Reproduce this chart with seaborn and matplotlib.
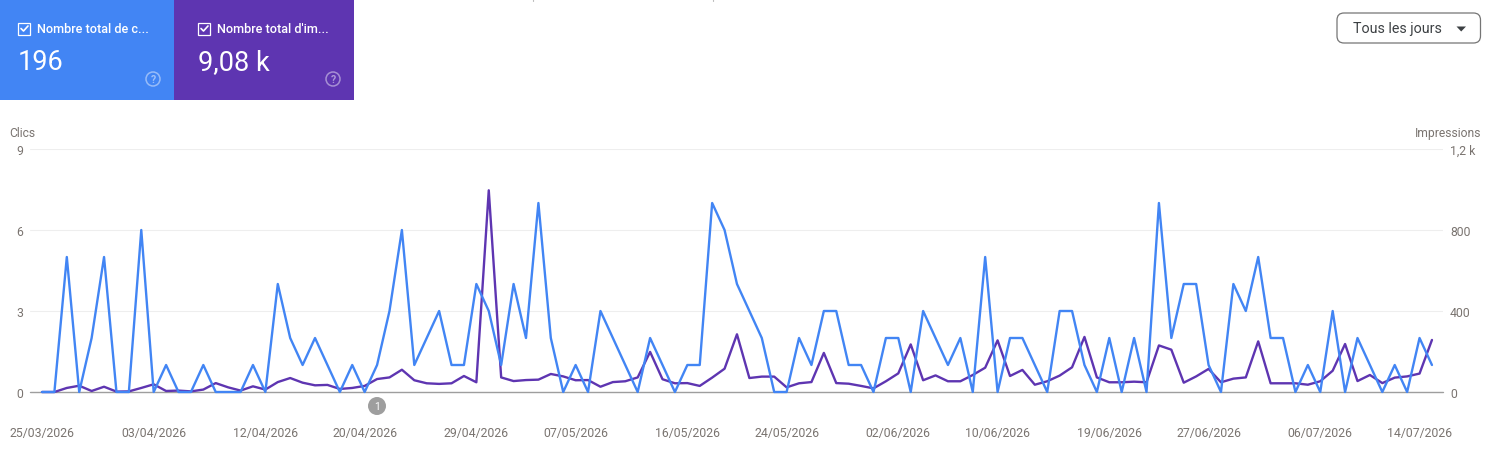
import pandas as pd
import matplotlib
matplotlib.use('Agg')
from matplotlib import pyplot as plt
from matplotlib.patches import Rectangle, Circle, FancyBboxPatch, Polygon
import seaborn as sns

start_date = '2026-03-25'
clicks = [0, 0, 5, 0, 2, 5, 0, 0, 6, 0,
          1, 0, 0, 1, 0, 0, 0, 1, 0, 4,
          2, 1, 2, 1, 0, 1, 0, 1, 3, 6,
          1, 2, 3, 1, 1, 4, 3, 1, 4, 2,
          7, 2, 0, 1, 0, 3, 2, 1, 0, 2,
          1, 0, 1, 1, 7, 6, 4, 3, 2, 0,
          0, 2, 1, 3, 3, 1, 1, 0, 2, 2,
          0, 3, 2, 1, 2, 0, 5, 0, 2, 2,
          1, 0, 3, 3, 1, 0, 2, 0, 2, 0,
          7, 2, 4, 4, 1, 0, 4, 3, 5, 2,
          2, 0, 1, 0, 3, 0, 2, 1, 0, 1,
          0, 2, 1]
impressions = [0, 0, 20, 31, 5, 26, 2, 3, 20, 38,
               5, 7, 3, 12, 44, 23, 7, 28, 12, 49,
               69, 46, 33, 35, 15, 20, 30, 64, 72, 110,
               58, 43, 40, 43, 79, 48, 996, 72, 54, 59,
               61, 89, 77, 58, 59, 26, 49, 53, 72, 198,
               63, 43, 44, 30, 71, 115, 285, 69, 76, 76,
               23, 43, 49, 193, 44, 41, 30, 18, 53, 92,
               235, 58, 82, 53, 53, 84, 120, 255, 79, 109,
               36, 53, 81, 122, 272, 72, 48, 48, 51, 48,
               230, 209, 46, 77, 114, 48, 66, 72, 250, 43,
               43, 43, 36, 53, 105, 237, 54, 84, 44, 71,
               77, 91, 257]
date_ticks = ['25/03/2026', '03/04/2026', '12/04/2026', '20/04/2026', '29/04/2026',
              '07/05/2026', '16/05/2026', '24/05/2026', '02/06/2026', '10/06/2026',
              '19/06/2026', '27/06/2026', '06/07/2026', '14/07/2026']
clicks_ticks = [0, 3, 6, 9]
impressions_ticks = [0, 400, 800, 1200]
impressions_labels = ['0', '400', '800', '1,2 k']

blue = '#4285f4'
purple = '#5e35b1'
grey = '#7a7470'

sns.set_theme(style='white')
plt.rcParams['font.family'] = ['Roboto', 'DejaVu Sans']

W, H = 1496, 452
dates = pd.date_range(start_date, periods=len(clicks))

fig = plt.figure(figsize=(W / 100, H / 100), dpi=100)

##__ chart area, placed in pixels
left, right, top, bottom = 30, 1443, 150, 393
ax = fig.add_axes([left / W, 1 - bottom / H, (right - left) / W, (bottom - top) / H])
ax2 = ax.twinx()
ax.set_zorder(ax2.get_zorder() + 1)
ax.patch.set_visible(False)

sns.lineplot(x=dates, y=impressions, ax=ax2, color=purple, linewidth=1.7, estimator=None, clip_on=False)
sns.lineplot(x=dates, y=clicks, ax=ax, color=blue, linewidth=1.7, estimator=None, clip_on=False)

step = pd.Timedelta(days=1)
ax.set_xlim(dates[0] - 0.966 * step, dates[-1] + 0.89 * step)
ax.set_ylim(0, 9)
ax2.set_ylim(0, 1200)

tick_dates = pd.to_datetime(date_ticks, format='%d/%m/%Y')
ax.set_xticks(tick_dates)
ax.set_xticklabels(date_ticks)
ax.set_yticks(clicks_ticks)
ax.set_yticklabels([str(v) for v in clicks_ticks])
ax2.set_yticks(impressions_ticks)
ax2.set_yticklabels(impressions_labels)

ax.tick_params(axis='x', length=0, pad=24.2, labelsize=8.8, labelcolor=grey)
ax.tick_params(axis='y', length=0, pad=5, labelsize=8.8, labelcolor=grey)
ax2.tick_params(axis='y', length=0, pad=5, labelsize=8.8, labelcolor=grey)

for a in (ax, ax2):
    for s in a.spines.values():
        s.set_visible(False)
ax2.grid(False)
ax.grid(False)
for v in clicks_ticks[1:]:
    ax2.axhline(v / 9 * 1200, color='#eeeeee', linewidth=0.75, zorder=0)
ax2.axhline(0, color='#9e9e9e', linewidth=1.0, zorder=1, clip_on=False)
ax.set_xlabel('')
ax.set_ylabel('')
ax2.set_ylabel('')

##__ page furniture in pixel coordinates
page = fig.add_axes([0, 0, 1, 1], zorder=10)
page.set_xlim(0, W)
page.set_ylim(H, 0)
page.axis('off')
page.patch.set_visible(False)


def card(x0, x1, color, label, total, pad, help_x):
    page.add_patch(Rectangle((x0, 0), x1 - x0, 101, facecolor=color, edgecolor='none'))
    bx = x0 + pad
    page.add_patch(Rectangle((bx + 0.5, 23.5), 12, 12, facecolor='none', edgecolor='white', linewidth=0.9))
    page.plot([bx + 3, bx + 5.5, bx + 10], [29.5, 32, 27], color='white', linewidth=1.2)
    page.text(bx + 19, 29.5, label, color='white', fontsize=9.1, fontweight='medium', va='center', ha='left')
    page.text(bx, 62.5, total, color='white', fontsize=19.5, va='center', ha='left')
    page.add_patch(Circle((help_x, 80), 7, facecolor='none', edgecolor='white', alpha=0.45, linewidth=1.1))
    page.text(help_x, 80.3, '?', color='white', alpha=0.5, fontsize=7.5, fontweight='bold', va='center', ha='center')


card(0, 174, blue, 'Nombre total de c...', '196', 18, 153)
card(174, 354, purple, "Nombre total d'im...", '9,08 k', 24, 333)

page.add_patch(FancyBboxPatch((1337, 14), 143.5, 30, boxstyle='round,pad=0,rounding_size=7',
                              facecolor='white', edgecolor='#757575', linewidth=0.9))
page.text(1353, 29.5, 'Tous les jours', color='#3c4043', fontsize=10.3, va='center', ha='left')
page.add_patch(Polygon([[1456.5, 27.5], [1466, 27.5], [1461.2, 32.5]], facecolor='#3c4043', edgecolor='none'))

page.text(9.5, 133.5, 'Clics', color=grey, fontsize=8.7, va='center', ha='left')
page.text(1481, 133.5, 'Impressions', color=grey, fontsize=8.7, va='center', ha='right')

page.add_patch(Circle((377, 407), 9, facecolor='#9e9e9e', edgecolor='none'))
page.text(377, 407, '1', color='white', fontsize=7.5, va='center', ha='center')

# tiny marks at the very top of the page
page.plot([533, 533], [0, 1.5], color='#bdbdbd', linewidth=0.8)
page.plot([713, 713], [0, 1.5], color='#bdbdbd', linewidth=0.8)

plt.savefig('out.png', dpi=100)
